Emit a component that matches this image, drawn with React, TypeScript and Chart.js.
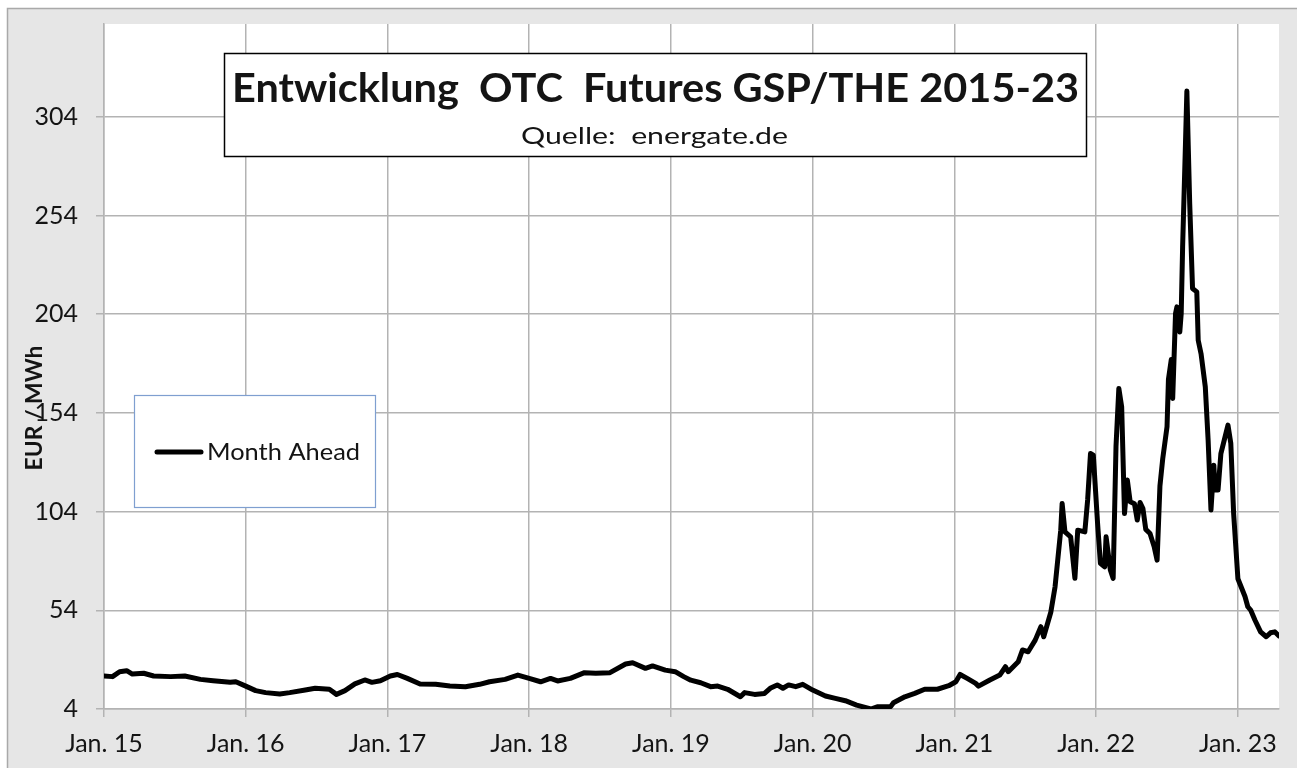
import React, { useEffect, useRef } from "react";
import { Chart, registerables } from "chart.js";

Chart.register(...registerables);

// ---- Data (decimal years, EUR/MWh) ----
const dates: number[] = [
  2015.0, 2015.06, 2015.11, 2015.16, 2015.2, 2015.28, 2015.35, 2015.47, 2015.57, 2015.68,
  2015.77, 2015.89, 2015.93, 2016.0, 2016.07, 2016.14, 2016.24, 2016.31, 2016.42, 2016.49,
  2016.59, 2016.64, 2016.7, 2016.77, 2016.84, 2016.89, 2016.95, 2017.02, 2017.07, 2017.14,
  2017.23, 2017.34, 2017.44, 2017.55, 2017.65, 2017.72, 2017.83, 2017.92, 2018.0, 2018.08,
  2018.15, 2018.2, 2018.29, 2018.39, 2018.47, 2018.57, 2018.68, 2018.73, 2018.82, 2018.87,
  2018.96, 2019.03, 2019.09, 2019.14, 2019.21, 2019.28, 2019.33, 2019.4, 2019.49, 2019.52,
  2019.59, 2019.66, 2019.7, 2019.75, 2019.79, 2019.83, 2019.88, 2019.93, 2020.0, 2020.09,
  2020.16, 2020.23, 2020.31, 2020.41, 2020.46, 2020.55, 2020.57, 2020.65, 2020.72, 2020.79,
  2020.88, 2020.96, 2021.01, 2021.04, 2021.09, 2021.15, 2021.17, 2021.25, 2021.32, 2021.36,
  2021.38, 2021.45, 2021.48, 2021.52, 2021.57, 2021.61, 2021.63, 2021.68, 2021.71, 2021.75,
  2021.76, 2021.78, 2021.82, 2021.85, 2021.87, 2021.92, 2021.94, 2021.96, 2021.98, 2022.01,
  2022.03, 2022.06, 2022.07, 2022.1, 2022.12, 2022.14, 2022.16, 2022.18, 2022.2, 2022.22,
  2022.24, 2022.27, 2022.29, 2022.31, 2022.33, 2022.35, 2022.38, 2022.41, 2022.43, 2022.45,
  2022.47, 2022.5, 2022.51, 2022.53, 2022.54, 2022.56, 2022.57, 2022.59, 2022.6, 2022.61,
  2022.63, 2022.64, 2022.66, 2022.68, 2022.71, 2022.72, 2022.74, 2022.77, 2022.79, 2022.81,
  2022.83, 2022.84, 2022.86, 2022.88, 2022.93, 2022.95, 2022.97, 2023.0, 2023.05, 2023.07,
  2023.09, 2023.12, 2023.16, 2023.2, 2023.23, 2023.26, 2023.29,
];

const monthAhead: number[] = [
  20.7, 20.4, 22.9, 23.4, 21.7, 22.1, 20.7, 20.4, 20.7, 19.0,
  18.3, 17.5, 17.8, 15.6, 13.3, 12.3, 11.6, 12.3, 13.6, 14.5,
  14.0, 11.4, 13.3, 16.7, 18.7, 17.5, 18.3, 20.7, 21.5, 19.5,
  16.7, 16.5, 15.6, 15.3, 16.5, 17.8, 19.0, 21.2, 19.5, 17.8,
  19.5, 18.2, 19.5, 22.4, 22.1, 22.4, 26.8, 27.4, 24.6, 25.8,
  23.7, 22.9, 20.4, 18.6, 17.3, 15.3, 15.6, 14.0, 10.2, 12.3,
  11.4, 11.9, 14.5, 16.2, 14.5, 16.2, 15.3, 16.5, 13.6, 10.6,
  9.4, 8.2, 6.0, 4.0, 5.2, 5.2, 7.2, 10.2, 11.9, 14.0,
  14.0, 15.8, 17.8, 21.5, 19.5, 17.0, 15.6, 18.7, 21.2, 25.4,
  22.9, 27.9, 33.9, 33.0, 38.9, 45.7, 40.6, 53.0, 65.9, 94.6,
  108.1, 93.7, 91.2, 70.2, 94.6, 93.7, 110.0, 133.4, 132.6, 98.0,
  77.8, 76.0, 91.2, 74.4, 70.2, 137.0, 166.4, 157.0, 103.0, 120.0,
  109.0, 108.0, 99.7, 108.6, 105.5, 95.0, 92.9, 86.0, 79.4, 117.0,
  131.0, 147.0, 171.0, 181.0, 161.3, 204.3, 207.7, 195.0, 204.3, 238.0,
  290.0, 317.0, 260.0, 217.0, 215.3, 190.8, 184.0, 167.2, 140.2, 104.8,
  127.5, 114.9, 114.9, 133.4, 147.8, 138.5, 103.0, 70.0, 61.0, 55.8,
  54.1, 49.1, 43.1, 40.6, 42.6, 43.1, 41.0,
];

const yTicks: number[] = [4, 54, 104, 154, 204, 254, 304];
const xTickYears: number[] = [2015, 2016, 2017, 2018, 2019, 2020, 2021, 2022, 2023];
const xTickLabels: string[] = ["Jan. 15", "Jan. 16", "Jan. 17", "Jan. 18", "Jan. 19", "Jan. 20", "Jan. 21", "Jan. 22", "Jan. 23"];

const chartTitle = "Entwicklung  OTC  Futures GSP/THE 2015-23";
const chartSubtitle = "Quelle:  energate.de";
const seriesName = "Month Ahead";
const yAxisTitle = "EUR / MWh";

const FONT = "Lato, 'Open Sans', sans-serif";
const TEXT = "#141414";
const GRID = "#b3b3b3";

function fitText(
  ctx: CanvasRenderingContext2D,
  text: string,
  x: number,
  y: number,
  width: number,
  font: string,
  align: CanvasTextAlign
) {
  ctx.save();
  ctx.font = font;
  const w = ctx.measureText(text).width;
  const s = width / w;
  ctx.translate(x, y);
  ctx.scale(s, 1);
  ctx.textAlign = align;
  ctx.textBaseline = "alphabetic";
  ctx.fillStyle = TEXT;
  ctx.fillText(text, 0, 0);
  ctx.restore();
}

const decorPlugin = {
  id: "decor",
  beforeDraw(chart: any) {
    const { ctx, width, height, chartArea } = chart;
    ctx.save();
    ctx.fillStyle = "#ffffff";
    ctx.fillRect(0, 0, width, height);
    ctx.fillStyle = "#e6e6e6";
    ctx.fillRect(7, 8, width - 7, height - 8);
    ctx.strokeStyle = "#a9a9a9";
    ctx.lineWidth = 1.5;
    ctx.beginPath();
    ctx.moveTo(7.5, height);
    ctx.lineTo(7.5, 8.5);
    ctx.lineTo(width, 8.5);
    ctx.stroke();
    ctx.fillStyle = "#ffffff";
    ctx.fillRect(chartArea.left, chartArea.top, chartArea.right - chartArea.left, chartArea.bottom - chartArea.top);
    ctx.restore();
  },
  afterDraw(chart: any) {
    const { ctx } = chart;
    // Title box
    ctx.save();
    ctx.fillStyle = "#ffffff";
    ctx.fillRect(224, 53, 863, 104);
    ctx.strokeStyle = "#000000";
    ctx.lineWidth = 1.5;
    ctx.strokeRect(224.5, 53.5, 862, 103);
    ctx.restore();
    fitText(ctx, chartTitle, 655.5, 102, 847, `bold 40px ${FONT}`, "center");
    fitText(ctx, chartSubtitle, 654.5, 144, 267, `24px ${FONT}`, "center");

    // Legend box
    ctx.save();
    ctx.fillStyle = "#ffffff";
    ctx.fillRect(134, 395, 242, 113);
    ctx.strokeStyle = "#7f9fd0";
    ctx.lineWidth = 1.2;
    ctx.strokeRect(134.5, 395.5, 241, 112);
    ctx.strokeStyle = "#000000";
    ctx.lineWidth = 5;
    ctx.lineCap = "round";
    ctx.beginPath();
    ctx.moveTo(157, 452);
    ctx.lineTo(201, 452);
    ctx.stroke();
    ctx.restore();
    fitText(ctx, seriesName, 207, 460, 153, `24px ${FONT}`, "left");

    // Y axis title
    ctx.save();
    ctx.translate(42, 408);
    ctx.rotate(-Math.PI / 2);
    ctx.font = `bold 22px ${FONT}`;
    const w = ctx.measureText(yAxisTitle).width;
    ctx.scale(125 / w, 1);
    ctx.textAlign = "center";
    ctx.textBaseline = "alphabetic";
    ctx.fillStyle = TEXT;
    ctx.fillText(yAxisTitle, 0, 0);
    ctx.restore();
  },
};

export default function App() {
  const ref = useRef<HTMLCanvasElement | null>(null);

  useEffect(() => {
    const canvas = ref.current;
    if (!canvas) return;
    const chart = new Chart(canvas, {
      type: "line",
      data: {
        datasets: [
          {
            label: seriesName,
            data: dates.map((d, i) => ({ x: d, y: monthAhead[i] })),
            borderColor: "#000000",
            backgroundColor: "#000000",
            borderWidth: 5,
            pointRadius: 0,
            tension: 0,
            borderJoinStyle: "round",
            borderCapStyle: "round",
          },
        ],
      },
      options: {
        responsive: false,
        animation: false,
        layout: { padding: { left: 0, top: 24, right: 18, bottom: 0 } },
        plugins: {
          legend: { display: false },
          tooltip: { enabled: false },
          title: { display: false },
        },
        scales: {
          x: {
            type: "linear",
            min: 2015,
            max: 2023.29,
            afterBuildTicks: (scale: any) => {
              scale.ticks = xTickYears.map((v) => ({ value: v }));
            },
            afterFit: (scale: any) => {
              scale.height = 59;
              scale.paddingLeft = 0;
              scale.paddingRight = 0;
            },
            ticks: {
              autoSkip: false,
              maxRotation: 0,
              padding: 12,
              color: TEXT,
              font: { family: FONT, size: 25 },
              callback: (v: any) => {
                const idx = xTickYears.indexOf(Number(v));
                return idx >= 0 ? xTickLabels[idx] : "";
              },
            },
            grid: { color: GRID, lineWidth: 1.5, tickLength: 8, drawTicks: true },
            border: { display: true, color: GRID, width: 1.5 },
          },
          y: {
            type: "linear",
            min: 4,
            max: 351,
            afterBuildTicks: (scale: any) => {
              scale.ticks = yTicks.map((v) => ({ value: v }));
            },
            afterFit: (scale: any) => {
              scale.width = 104;
              scale.paddingTop = 0;
              scale.paddingBottom = 0;
            },
            ticks: {
              padding: 18,
              color: TEXT,
              font: { family: FONT, size: 25 },
              callback: (v: any) => String(v),
            },
            grid: { color: GRID, lineWidth: 1.5, tickLength: 8, drawTicks: true },
            border: { display: true, color: GRID, width: 1.5 },
          },
        },
      },
      plugins: [decorPlugin],
    } as any);
    return () => chart.destroy();
  }, []);

  return (
    <div style={{ position: "fixed", left: 0, top: 0, width: 1297, height: 768, overflow: "hidden" }}>
      <canvas ref={ref} width={1297} height={768} style={{ display: "block", width: 1297, height: 768 }} />
    </div>
  );
}
